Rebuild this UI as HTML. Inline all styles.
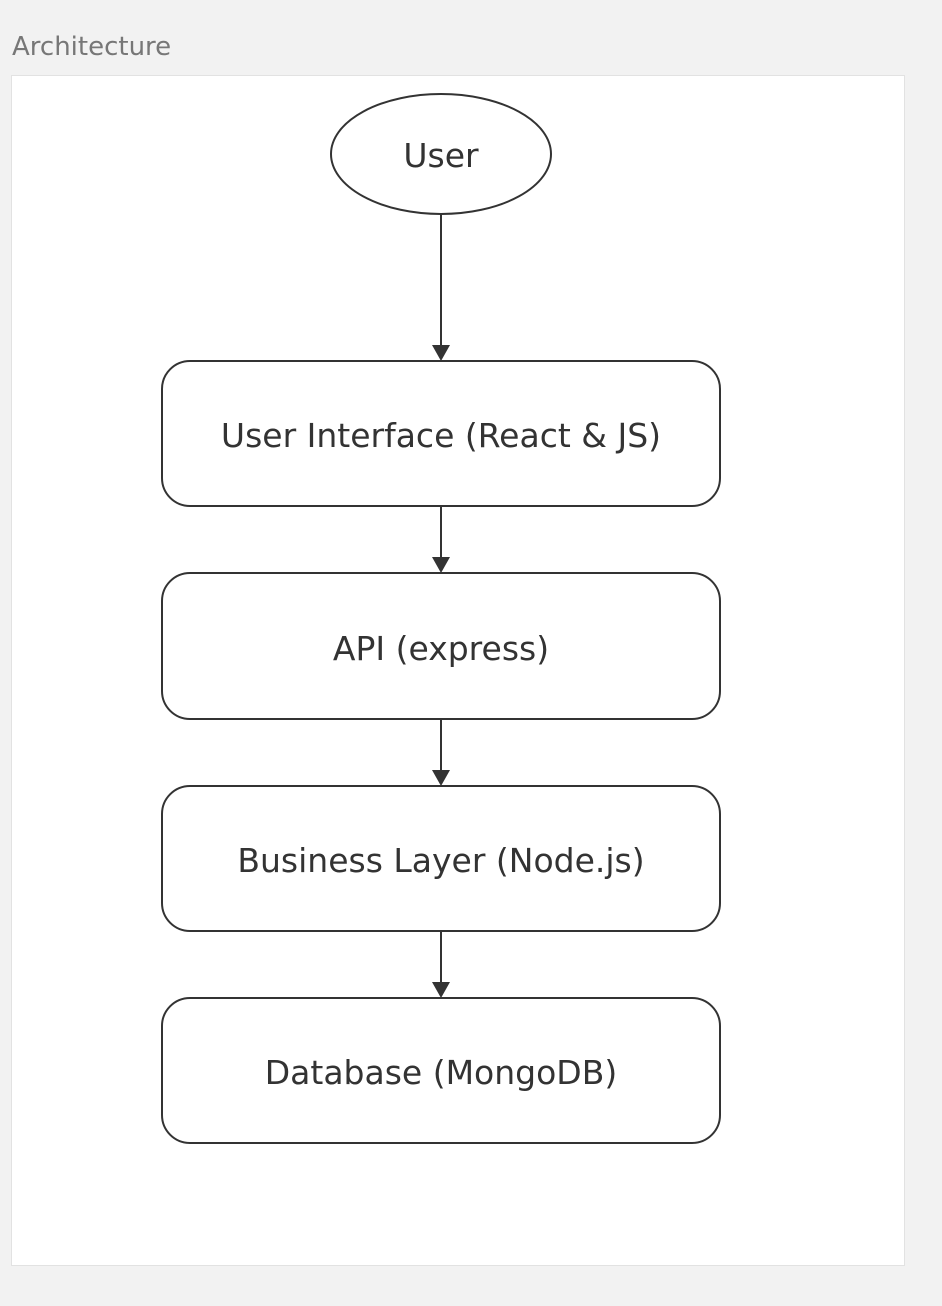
<!DOCTYPE html>
<html><head><style>
body{margin:0;width:942px;height:1302px;background:#f2f2f2;overflow:hidden;font-family:"DejaVu Sans","Liberation Sans",sans-serif}
</style></head><body>
<svg width="942" height="1302" xmlns="http://www.w3.org/2000/svg">
<text x="12" y="55" font-size="26" fill="#777" font-family="DejaVu Sans, Liberation Sans, sans-serif">Architecture</text>
<rect x="11.5" y="75.5" width="893" height="1190" fill="#fff" stroke="#e2e2e2"/>
<g stroke="#333" stroke-width="2" fill="none">
<ellipse cx="441" cy="154" rx="110" ry="60"/>
<rect x="162" y="361" width="558" height="145" rx="28"/>
<rect x="162" y="573" width="558" height="146" rx="28"/>
<rect x="162" y="786" width="558" height="145" rx="28"/>
<rect x="162" y="998" width="558" height="145" rx="28"/>
<line x1="441" y1="214" x2="441" y2="346"/>
<line x1="441" y1="506" x2="441" y2="558"/>
<line x1="441" y1="719" x2="441" y2="771"/>
<line x1="441" y1="931" x2="441" y2="983"/>
</g>
<g fill="#333">
<path d="M432,345 L450,345 L441,361 z"/>
<path d="M432,557 L450,557 L441,573 z"/>
<path d="M432,770 L450,770 L441,786 z"/>
<path d="M432,982 L450,982 L441,998 z"/>
</g>
<g font-size="33" fill="#333" text-anchor="middle" font-family="DejaVu Sans, Liberation Sans, sans-serif">
<text x="441" y="167">User</text>
<text x="441" y="447">User Interface (React &amp; JS)</text>
<text x="441" y="660">API (express)</text>
<text x="441" y="872">Business Layer (Node.js)</text>
<text x="441" y="1084">Database (MongoDB)</text>
</g>
</svg>
</body></html>
